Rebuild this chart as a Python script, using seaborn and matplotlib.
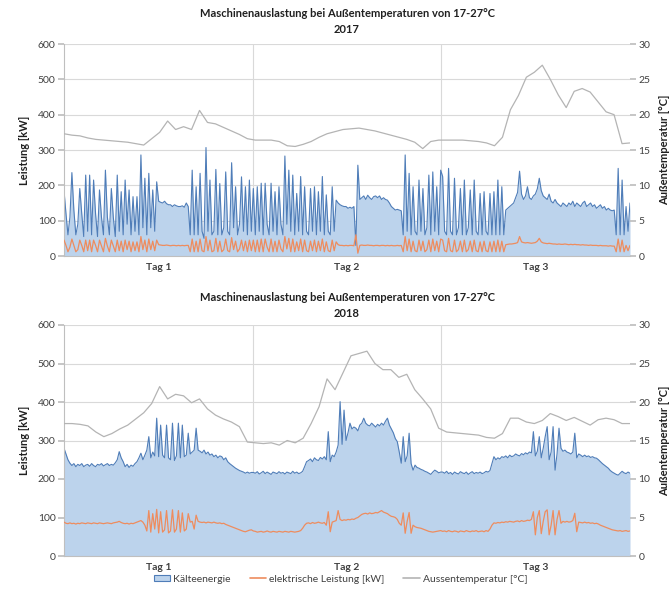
import numpy as np
import matplotlib
matplotlib.use("Agg")
import matplotlib.pyplot as plt
from matplotlib.patches import Patch
from matplotlib.lines import Line2D
import seaborn as sns

# ----------- Daten -----------
tage = ["Tag 1", "Tag 2", "Tag 3"]
titel = "Maschinenauslastung bei Außentemperaturen von 17-27°C"

# 2017 Kälteenergie [kW], 96 Werte pro Tag
k17_tag1 = [185, 120, 60, 110, 236, 130, 60, 90, 191, 120, 55, 229, 70, 229, 60, 215,
            120, 55, 187, 110, 60, 243, 110, 60, 191, 110, 55, 229, 70, 182, 60, 215,
            90, 187, 60, 168, 70, 168, 60, 286, 80, 220, 60, 234, 80, 187, 70, 210,
            155, 152, 150, 155, 148, 145, 145, 140, 145, 142, 140, 140, 142, 138, 150, 140,
            60, 243, 60, 196, 60, 234, 70, 50, 307, 70, 215, 60, 70, 245, 60, 205,
            60, 80, 238, 70, 60, 264, 80, 196, 60, 90, 224, 70, 196, 60, 215, 70]
k17_tag2 = [191, 60, 196, 70, 206, 60, 206, 90, 60, 206, 70, 182, 60, 196, 90, 60,
            283, 90, 243, 70, 229, 60, 177, 70, 225, 60, 196, 70, 60, 191, 70, 196,
            60, 182, 70, 225, 60, 173, 70, 60, 196, 70, 158, 150, 145, 142, 140, 140,
            135, 138, 135, 140, 30, 257, 160, 165, 170, 160, 172, 165, 160, 168, 170, 165,
            170, 160, 165, 160, 158, 150, 140, 135, 130, 132, 130, 128, 60, 286, 70, 234,
            60, 196, 70, 60, 215, 70, 191, 60, 80, 229, 60, 238, 70, 196, 60, 243]
k17_tag3 = [225, 70, 60, 248, 70, 60, 220, 60, 80, 191, 60, 215, 60, 80, 187, 60,
            215, 70, 60, 177, 60, 182, 70, 60, 177, 60, 182, 60, 215, 60, 196, 60,
            130, 135, 140, 145, 150, 165, 180, 240, 175, 160, 170, 196, 165, 160, 170, 175,
            190, 220, 185, 170, 165, 160, 175, 155, 150, 160, 150, 145, 140, 150, 145, 140,
            150, 145, 155, 140, 150, 145, 140, 150, 155, 140, 145, 150, 140, 145, 135, 140,
            145, 135, 140, 130, 135, 130, 128, 130, 60, 248, 60, 215, 60, 140, 70, 150]

# 2017 elektrische Leistung [kW]
e17_tag1 = [45, 30, 12, 25, 48, 30, 12, 18, 45, 30, 12, 45, 15, 45, 12, 45,
            30, 12, 45, 28, 12, 50, 28, 12, 45, 28, 12, 45, 15, 42, 12, 45,
            18, 42, 12, 40, 15, 40, 12, 55, 18, 45, 12, 48, 18, 42, 15, 45,
            32, 31, 30, 30, 31, 30, 29, 30, 30, 29, 30, 29, 30, 29, 30, 30,
            12, 48, 12, 42, 12, 48, 15, 12, 55, 15, 45, 12, 15, 50, 12, 42,
            12, 18, 48, 15, 12, 52, 18, 42, 12, 20, 45, 15, 42, 12, 45, 15]
e17_tag2 = [45, 12, 45, 12, 48, 12, 48, 25, 12, 48, 12, 42, 12, 45, 20, 12,
            55, 20, 50, 12, 48, 12, 40, 15, 48, 12, 45, 15, 12, 42, 15, 45,
            12, 42, 15, 48, 12, 40, 15, 12, 45, 15, 40, 32, 30, 30, 29, 30,
            29, 30, 30, 29, 60, 8, 30, 31, 30, 30, 31, 30, 30, 29, 30, 30,
            29, 30, 30, 29, 30, 29, 30, 29, 29, 30, 29, 30, 12, 55, 15, 48,
            12, 42, 15, 12, 45, 15, 42, 12, 18, 45, 12, 48, 15, 42, 12, 48]
e17_tag3 = [45, 15, 12, 50, 15, 12, 45, 12, 18, 42, 12, 45, 12, 18, 42, 12,
            45, 15, 12, 40, 12, 42, 15, 12, 40, 12, 42, 12, 45, 12, 42, 12,
            32, 33, 34, 34, 35, 36, 38, 55, 40, 38, 37, 38, 37, 36, 37, 38,
            42, 50, 40, 37, 36, 35, 36, 35, 34, 34, 33, 34, 33, 33, 34, 33,
            32, 33, 32, 33, 32, 32, 31, 32, 31, 31, 30, 31, 30, 30, 30, 29,
            30, 29, 29, 29, 28, 29, 28, 28, 12, 48, 12, 45, 12, 30, 15, 30]

# 2017 Aussentemperatur [°C], 24 Werte pro Tag
t17_tag1 = [17.3, 17.1, 17.0, 16.7, 16.5, 16.4, 16.3, 16.2, 16.1, 15.9, 15.7, 16.6,
            17.5, 19.1, 17.9, 18.3, 17.9, 20.6, 18.9, 18.7, 18.2, 17.7, 17.2, 16.6]
t17_tag2 = [16.4, 16.4, 16.4, 16.2, 15.6, 15.5, 15.8, 16.2, 16.8, 17.3, 17.6, 17.9,
            18.0, 18.1, 17.9, 17.7, 17.4, 17.1, 16.8, 16.5, 16.1, 15.2, 16.2, 16.4]
t17_tag3 = [16.4, 16.4, 16.4, 16.3, 16.2, 16.0, 15.6, 16.8, 20.7, 22.7, 25.3, 26.0,
            27.0, 25.0, 22.8, 21.0, 23.3, 23.7, 23.2, 21.8, 20.4, 20.0, 15.9, 16.0]

# 2018 Kälteenergie [kW]
k18_tag1 = [280, 265, 250, 241, 235, 240, 232, 238, 235, 240, 232, 236, 238, 233, 240, 235,
            232, 238, 236, 240, 234, 237, 240, 235, 238, 236, 242, 250, 271, 255, 245, 232,
            238, 230, 236, 233, 240, 245, 255, 267, 250, 262, 275, 310, 255, 270, 260, 358,
            258, 340, 262, 255, 340, 255, 250, 345, 248, 260, 345, 255, 340, 258, 262, 319,
            265, 270, 275, 332, 275, 272, 268, 275, 265, 270, 262, 265, 258, 262, 255, 260,
            258, 250, 255, 245, 240, 236, 232, 228, 225, 222, 220, 218, 215, 218, 215, 217]
k18_tag2 = [217, 215, 219, 213, 216, 220, 214, 218, 215, 212, 218, 216, 214, 219, 215, 217,
            213, 218, 216, 214, 220, 215, 218, 214, 216, 220, 232, 245, 248, 252, 245, 255,
            250, 248, 256, 252, 258, 250, 323, 245, 262, 258, 270, 288, 401, 290, 379, 300,
            320, 345, 330, 335, 332, 325, 340, 345, 358, 345, 340, 338, 345, 340, 335, 342,
            338, 345, 340, 350, 358, 340, 330, 320, 305, 297, 270, 241, 310, 245, 260, 319,
            240, 223, 236, 230, 228, 225, 223, 220, 218, 215, 212, 218, 223, 220, 216, 218]
k18_tag3 = [218, 215, 220, 214, 217, 212, 218, 215, 213, 219, 216, 214, 218, 212, 216, 219,
            214, 217, 215, 218, 214, 216, 220, 218, 222, 240, 258, 250, 255, 252, 258, 256,
            260, 255, 262, 258, 260, 265, 262, 260, 266, 263, 268, 265, 270, 268, 323, 260,
            272, 310, 255, 280, 310, 336, 250, 270, 336, 223, 265, 332, 280, 272, 275, 270,
            268, 265, 270, 319, 255, 265, 262, 258, 262, 258, 260, 256, 258, 255, 254, 250,
            245, 240, 236, 232, 228, 222, 218, 215, 212, 210, 215, 220, 216, 214, 218, 215]

# 2018 elektrische Leistung [kW]
e18_tag1 = [88, 85, 84, 86, 84, 85, 83, 85, 84, 86, 85, 84, 86, 85, 84, 86,
            85, 84, 86, 85, 84, 85, 86, 85, 84, 86, 87, 88, 90, 87, 85, 84,
            85, 83, 85, 84, 86, 88, 90, 92, 88, 80, 65, 118, 62, 110, 70, 121,
            60, 115, 62, 68, 118, 60, 65, 120, 62, 70, 118, 62, 112, 65, 70, 110,
            88, 90, 70, 106, 90, 88, 87, 88, 86, 88, 87, 86, 88, 86, 85, 86,
            84, 85, 82, 80, 78, 76, 74, 72, 70, 68, 66, 64, 63, 65, 67, 68]
e18_tag2 = [65, 64, 62, 63, 64, 62, 63, 65, 63, 62, 64, 63, 62, 64, 63, 62,
            64, 63, 62, 64, 63, 62, 63, 64, 66, 72, 80, 85, 86, 84, 87, 85,
            86, 88, 86, 85, 87, 80, 115, 63, 88, 90, 92, 118, 95, 92, 94, 93,
            95, 94, 96, 95, 98, 100, 104, 108, 110, 111, 109, 112, 110, 111, 113, 112,
            115, 118, 114, 112, 110, 106, 103, 102, 100, 95, 85, 80, 112, 59, 90, 113,
            59, 80, 76, 74, 73, 72, 70, 68, 66, 64, 63, 62, 63, 64, 65, 66]
e18_tag3 = [64, 65, 63, 66, 64, 63, 65, 64, 62, 65, 64, 63, 66, 64, 63, 65,
            64, 66, 63, 64, 65, 63, 66, 64, 70, 80, 86, 85, 87, 86, 88, 87,
            89, 88, 90, 89, 88, 90, 91, 89, 92, 90, 91, 93, 92, 95, 115, 55,
            100, 118, 58, 90, 115, 120, 55, 80, 118, 55, 95, 118, 85, 90, 88, 90,
            88, 89, 92, 111, 63, 88, 87, 86, 88, 86, 87, 85, 86, 84, 85, 83,
            80, 78, 76, 74, 72, 70, 68, 67, 66, 65, 66, 64, 65, 66, 64, 65]

# 2018 Aussentemperatur [°C]
t18_tag1 = [17.2, 17.2, 17.1, 16.9, 16.1, 15.5, 15.9, 16.5, 17.0, 17.8, 18.6, 19.8,
            22.0, 20.4, 21.0, 20.8, 19.9, 20.4, 19.1, 18.3, 17.8, 17.4, 16.8, 14.8]
t18_tag2 = [14.7, 14.6, 14.7, 14.4, 15.0, 14.7, 15.3, 17.2, 19.4, 23.0, 21.6, 23.8,
            26.0, 26.3, 26.6, 25.0, 24.2, 24.2, 23.2, 23.6, 21.6, 20.4, 19.1, 16.6]
t18_tag3 = [16.1, 16.0, 15.9, 15.8, 15.7, 15.4, 15.3, 15.9, 17.9, 17.9, 17.4, 17.2,
            17.6, 18.5, 18.1, 17.6, 18.0, 17.5, 17.0, 17.7, 17.9, 17.7, 17.2, 17.2]

# ----------- Farben -----------
FILL = "#BCD3EC"
KANTE = "#4F7DB8"
ELEK = "#EE8C5E"
TEMP = "#B4B4B4"
GRID = "#D9D9D9"
TXT = "#404040"

sns.set_theme(style="white")
plt.rcParams["font.family"] = ["Lato", "DejaVu Sans"]


def zeichne_panel(ax, jahr, kaelte, elektrisch, temp, pad):
    x_k = np.linspace(0, 3, len(kaelte))
    x_t = np.linspace(0, 3, len(temp))

    ax.fill_between(x_k, kaelte, color=FILL, lw=0, zorder=1)
    sns.lineplot(x=x_k, y=kaelte, ax=ax, color=KANTE, lw=0.8, zorder=2)
    sns.lineplot(x=x_k, y=elektrisch, ax=ax, color=ELEK, lw=0.9, zorder=3)

    ax.set_xlim(0, 3)
    ax.set_ylim(0, 600)
    ax.set_yticks(range(0, 601, 100))
    ax.set_xticks([0.5, 1.5, 2.5])
    ax.set_xticklabels(tage, fontweight="bold")
    ax.set_axisbelow(True)
    ax.grid(axis="y", color=GRID, lw=0.8)
    for d in [1, 2]:
        ax.axvline(d, color=GRID, lw=0.8, zorder=0.5)
    for s in ["top", "right"]:
        ax.spines[s].set_visible(False)
    for s in ["left", "bottom"]:
        ax.spines[s].set_color("#BFBFBF")
        ax.spines[s].set_linewidth(0.8)
    ax.tick_params(axis="y", length=4, color="#BFBFBF", labelsize=7.5, labelcolor=TXT, pad=2)
    ax.tick_params(axis="x", length=0, labelsize=7.5, labelcolor=TXT, pad=5)
    ax.set_ylabel("Leistung [kW]", fontsize=8, fontweight="bold", color="#202020", labelpad=6)
    ax.set_title(titel + "\n" + jahr, fontsize=8, fontweight="bold", color="#202020",
                 pad=pad, linespacing=1.5)

    ax2 = ax.twinx()
    sns.lineplot(x=x_t, y=temp, ax=ax2, color=TEMP, lw=0.9)
    ax2.set_ylim(0, 30)
    ax2.set_yticks(range(0, 31, 5))
    ax2.grid(False)
    for s in ax2.spines.values():
        s.set_visible(False)
    ax2.tick_params(axis="y", length=4, color="#BFBFBF", labelsize=7.5, labelcolor=TXT, pad=2)
    ax2.set_ylabel("Außentemperatur [°C]", fontsize=8, fontweight="bold", color="#202020",
                   labelpad=6)
    return ax2


fig = plt.figure(figsize=(6.72, 6.02), dpi=100)
ax_oben = fig.add_axes([64 / 672, 1 - 256 / 602, 566 / 672, 212 / 602])
ax_unten = fig.add_axes([64 / 672, 1 - 556 / 602, 566 / 672, 231 / 602])

zeichne_panel(ax_oben, "2017", k17_tag1 + k17_tag2 + k17_tag3,
              e17_tag1 + e17_tag2 + e17_tag3, t17_tag1 + t17_tag2 + t17_tag3, 8)
zeichne_panel(ax_unten, "2018", k18_tag1 + k18_tag2 + k18_tag3,
              e18_tag1 + e18_tag2 + e18_tag3, t18_tag1 + t18_tag2 + t18_tag3, 6)

handles = [Patch(facecolor=FILL, edgecolor=KANTE, lw=0.8),
           Line2D([], [], color=ELEK, lw=1.2),
           Line2D([], [], color=TEMP, lw=1.2)]
labels = ["Kälteenergie", "elektrische Leistung [kW]", "Aussentemperatur [°C]"]
leg = fig.legend(handles, labels, loc="center", bbox_to_anchor=(0.507, 1 - 579 / 602),
                 ncol=3, frameon=False, fontsize=7.5, handlelength=1.6, handleheight=0.6,
                 columnspacing=1.8, handletextpad=0.3)
for t in leg.get_texts():
    t.set_color(TXT)

fig.savefig("out.png", dpi=100)
